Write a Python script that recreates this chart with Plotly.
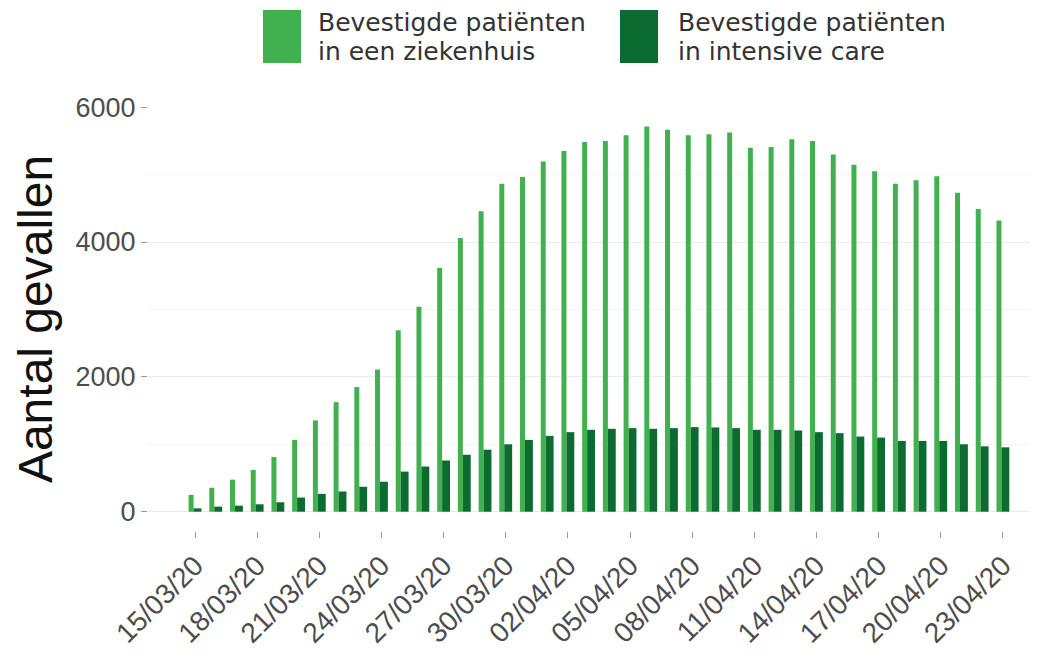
import plotly.graph_objects as go
import pandas as pd

dates = pd.date_range("2020-03-15", "2020-04-23", freq="D")
hospital = [250, 355, 475, 620, 810, 1065, 1355, 1625, 1850, 2110,
            2690, 3040, 3615, 4060, 4455, 4865, 4965, 5195, 5350, 5485,
            5500, 5585, 5715, 5665, 5585, 5600, 5625, 5400, 5410, 5525,
            5500, 5300, 5145, 5050, 4865, 4915, 4975, 4730, 4490, 4320]
icu = [50, 75, 90, 110, 140, 210, 265, 300, 370, 445,
       595, 670, 760, 845, 920, 1000, 1065, 1125, 1180, 1215,
       1230, 1240, 1230, 1240, 1255, 1250, 1240, 1215, 1215, 1205,
       1180, 1165, 1115, 1100, 1050, 1050, 1050, 1000, 970, 955]
legend_lines = [["Bevestigde patiënten", "in een ziekenhuis"],
                ["Bevestigde patiënten", "in intensive care"]]
colors = ["#41b04e", "#0b6b30"]

DAY = 86400000
FONT = "Liberation Sans, Arial, sans-serif"
LEGFONT = "DejaVu Sans, sans-serif"

fig = go.Figure()
fig.add_trace(go.Bar(x=dates, y=hospital, name=" ".join(legend_lines[0]),
                     marker=dict(color=colors[0], line=dict(width=0)),
                     width=0.24 * DAY, offset=-0.31 * DAY, showlegend=False))
fig.add_trace(go.Bar(x=dates, y=icu, name=" ".join(legend_lines[1]),
                     marker=dict(color=colors[1], line=dict(width=0)),
                     width=0.38 * DAY, offset=-0.07 * DAY, showlegend=False))

W, H = 1030, 657
L, R, T, B = 140, 1027, 99, 523

def px(x):
    return (x - L) / (R - L)

def py(y):
    return (B - y) / (B - T)

# manual legend (large swatches like the reference)
swatches = [(255, 293), (612, 650)]
text_x = [308, 668]
for i in range(2):
    fig.add_shape(type="rect", xref="paper", yref="paper",
                  x0=px(swatches[i][0]), x1=px(swatches[i][1]),
                  y0=py(55), y1=py(2),
                  fillcolor=colors[i], line=dict(width=0))
    for j, yc in enumerate([15, 43]):
        fig.add_annotation(xref="paper", yref="paper", x=px(text_x[i]), y=py(yc),
                           xanchor="left", yanchor="middle", align="left",
                           text=legend_lines[i][j], showarrow=False,
                           font=dict(family=LEGFONT, size=25, color="#333333"))

x0 = dates[0] - pd.Timedelta(days=2.27)
x1 = dates[-1] + pd.Timedelta(days=1.55)

fig.update_layout(
    width=W, height=H,
    margin=dict(l=L, r=W - R, t=T, b=H - B),
    plot_bgcolor="white", paper_bgcolor="white",
    barmode="overlay",
    font=dict(family=FONT),
    xaxis=dict(
        type="date", range=[x0, x1],
        tick0="2020-03-15", dtick=3 * DAY, tickformat="%d/%m/%y",
        tickangle=-45, ticks="outside", ticklen=6, tickcolor="#999999",
        tickfont=dict(family=FONT, size=28, color="#4d4d4d"),
        showgrid=False, zeroline=False, showline=False,
    ),
    yaxis=dict(
        range=[-286, 6003], tickvals=[0, 2000, 4000, 6000],
        ticks="outside", ticklen=6, tickcolor="#999999",
        tickfont=dict(family=FONT, size=27, color="#4d4d4d"),
        showgrid=True, gridcolor="#ebebeb", gridwidth=1.2,
        minor=dict(tickvals=[1000, 3000, 5000], showgrid=True,
                   gridcolor="#f4f4f4", gridwidth=1, ticks=""),
        zeroline=False, showline=False,
        title=dict(text="Aantal gevallen", standoff=7,
                   font=dict(family=FONT, size=48, color="#111111")),
    ),
)

fig.write_html("out.html")
